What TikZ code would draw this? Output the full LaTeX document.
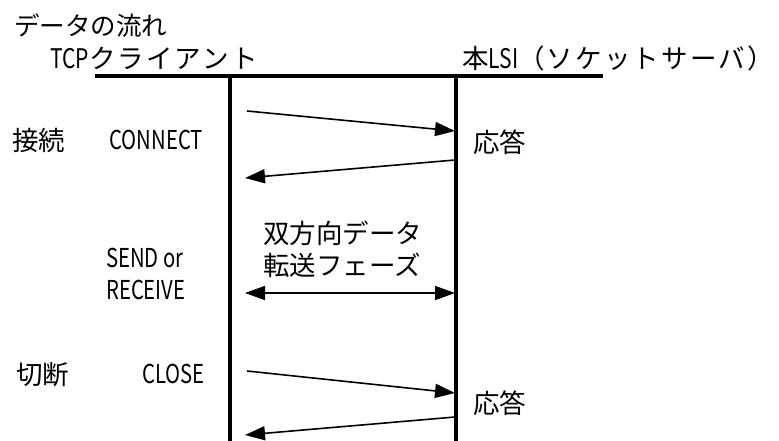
\documentclass[tikz,border=0pt]{standalone}
\usepackage{fontspec}
\setmainfont{Noto Sans CJK JP}
\newfontfamily\narrowlat[FakeStretch=0.78]{Noto Sans CJK JP}
\newfontfamily\widecjk[LetterSpace=8]{Noto Sans CJK JP}
\usetikzlibrary{arrows.meta}
\newcommand{\hdrlat}[1]{{\narrowlat\fontsize{27}{30}\selectfont #1}}
\begin{document}
\begin{tikzpicture}[x=1pt,y=-1pt,
  ttl/.style={inner sep=0pt,font=\fontsize{25.5}{30}\selectfont},
  txt/.style={inner sep=0pt,font=\fontsize{26.5}{30}\selectfont},
  hdr/.style={inner sep=0pt,font=\fontsize{26.5}{30}\selectfont\widecjk},
  lat/.style={inner sep=0pt,font=\fontsize{26}{30}\selectfont\narrowlat},
  thick line/.style={line width=3.5pt},
  msg/.style={line width=1.6pt,-{Triangle[length=20pt,width=14pt]}},
  bidir/.style={line width=1.6pt,{Triangle[length=20pt,width=14pt]}-{Triangle[length=20pt,width=14pt]}}]
\useasboundingbox (0,0) rectangle (779,441);
% texts
\node[ttl,anchor=west] (title) at (14,26) {データの流れ};
\node[hdr,anchor=west] (client) at (50,58) {\hdrlat{TCP}クライアント};
\node[hdr,anchor=west] (server) at (462,58) {本\hdrlat{LSI}（ソケットサーバ）};
% frame
\coordinate (hl) at (95,76);
\coordinate (hr) at (603,76);
\coordinate (ct) at (230,76);
\coordinate (cb) at (230,441);
\coordinate (st) at (456,76);
\coordinate (sb) at (456,441);
\draw[thick line] (hl) -- (hr);
\draw[thick line] (ct) -- (cb);
\draw[thick line] (st) -- (sb);
% connect
\node[txt,anchor=west] (conn) at (12,140) {接続};
\node[lat,anchor=east] (connect) at (203,140) {CONNECT};
\node[txt,anchor=west] (ans1) at (473,142) {応答};
\coordinate (a1s) at (247,111);
\coordinate (a1e) at (455,131);
\coordinate (a2s) at (455,160);
\coordinate (a2e) at (245,178);
\draw[msg] (a1s) -- (a1e);
\draw[msg] (a2s) -- (a2e);
% data phase
\node[txt,anchor=west] (bd1) at (263,233) {双方向データ};
\node[txt,anchor=west] (bd2) at (263,265) {転送フェーズ};
\node[lat,anchor=west] (send) at (106,258) {SEND or};
\node[lat,anchor=west] (recv) at (106,290) {RECEIVE};
\coordinate (dl) at (245,293);
\coordinate (dr) at (455,293);
\draw[bidir] (dl) -- (dr);
% close
\node[txt,anchor=west] (disc) at (16,375) {切断};
\node[lat,anchor=east] (close) at (205,374) {CLOSE};
\node[txt,anchor=west] (ans2) at (473,403) {応答};
\coordinate (a3s) at (247,371);
\coordinate (a3e) at (455,393);
\coordinate (a4s) at (455,417);
\coordinate (a4e) at (245,435);
\draw[msg] (a3s) -- (a3e);
\draw[msg] (a4s) -- (a4e);
\end{tikzpicture}
\end{document}
